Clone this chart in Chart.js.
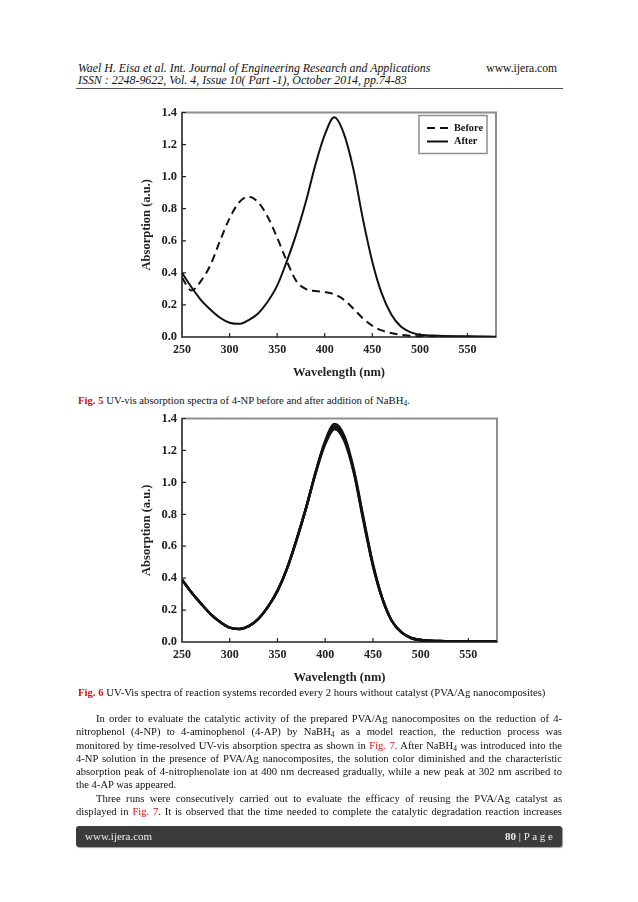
<!DOCTYPE html>
<html lang="en">
<head>
  <meta charset="UTF-8">
  <title>Fig. 5 / Fig. 6 - UV-vis spectra</title>
  <script src="https://cdn.jsdelivr.net/npm/chart.js"></script>
  <style>
    body { margin: 0; background: #fff; width: 638px; height: 902px; position: relative; font-family: "Liberation Serif", "Times New Roman", serif; color: #111; }
    .abs { position: absolute; }
    .hdr { font-style: italic; font-size: 11.9px; left: 78px; white-space: nowrap; }
    .cap { left: 78px; font-size: 10.7px; white-space: nowrap; }
    .fig { color: #d01010; font-weight: bold; }
    .ref { color: #d01010; }
    .txt { left: 76px; width: 486px; font-size: 10.6px; line-height: 13.3px; }
    .ln { text-align: justify; text-align-last: justify; white-space: nowrap; height: 13.3px; }
    .ln.ind { padding-left: 20px; }
    .ln.last { text-align-last: left; }
    sub { font-size: 70%; vertical-align: -2px; line-height: 0; }
    .foot { left: 76px; top: 826px; width: 486px; height: 21px; background: #3b3b3b; border-radius: 3px; color: #eee; font-size: 11px; box-shadow: 1px 1px 1px #999; }
  </style>
</head>
<body>
  <div class="abs hdr" style="top:61px">Wael H. Eisa et al. Int. Journal of Engineering Research and Applications</div>
  <div class="abs" style="top:62px; right:81px; font-size:11.6px">www.ijera.com</div>
  <div class="abs hdr" style="top:73px">ISSN : 2248-9622, Vol. 4, Issue 10( Part -1), October 2014, pp.74-83</div>
  <div class="abs" style="left:76px; top:88px; width:487px; height:1px; background:#555"></div>

  <canvas id="fig5" class="abs" width="375" height="285" style="left:130px; top:100px"></canvas>
  <div class="abs cap" style="top:394px"><span class="fig">Fig. 5</span> UV-vis absorption spectra of 4-NP before and after addition of NaBH<sub>4</sub>.</div>

  <canvas id="fig6" class="abs" width="376" height="284" style="left:130px; top:406px"></canvas>
  <div class="abs cap" style="top:686px"><span class="fig">Fig. 6</span> UV-Vis spectra of reaction systems recorded every 2 hours without catalyst (PVA/Ag nanocomposites)</div>

  <div class="abs txt" style="top:712px">
    <div class="ln ind">In order to evaluate the catalytic activity of the prepared PVA/Ag nanocomposites on the reduction of 4-</div>
    <div class="ln">nitrophenol (4-NP) to 4-aminophenol (4-AP) by NaBH<sub>4</sub> as a model reaction, the reduction process was</div>
    <div class="ln">monitored by time-resolved UV-vis absorption spectra as shown in <span class="ref">Fig. 7</span>. After NaBH<sub>4</sub> was introduced into the</div>
    <div class="ln">4-NP solution in the presence of PVA/Ag nanocomposites, the solution color diminished and the characteristic</div>
    <div class="ln">absorption peak of 4-nitrophenolate ion at 400 nm decreased gradually, while a new peak at 302 nm ascribed to</div>
    <div class="ln last">the 4-AP was appeared.</div>
    <div class="ln ind">Three runs were consecutively carried out to evaluate the efficacy of reusing the PVA/Ag catalyst as</div>
    <div class="ln">displayed in <span class="ref">Fig. 7</span>. It is observed that the time needed to complete the catalytic degradation reaction increases</div>
  </div>

  <div class="abs foot">
    <span class="abs" style="left:9px; top:4px">www.ijera.com</span>
    <span class="abs" style="right:9px; top:4px"><b>80</b> | P a g e</span>
  </div>

  <script>
    // wavelengths (nm) shared by all curves
    const wavelengths = [250, 260, 270, 280, 290, 300, 310, 320, 330, 340, 350, 360, 370, 380, 390, 400, 410, 420, 430, 440, 450, 460, 470, 480, 490, 500, 520, 550, 580];

    // Fig. 5
    const beforeAbs = [0.37, 0.29, 0.35, 0.45, 0.60, 0.74, 0.84, 0.875, 0.84, 0.75, 0.62, 0.475, 0.35, 0.30, 0.287, 0.28, 0.266, 0.233, 0.178, 0.117, 0.07, 0.041, 0.025, 0.014, 0.008, 0.004, 0.002, 0.001, 0];
    const afterAbs = [0.40, 0.31, 0.23, 0.17, 0.12, 0.089, 0.082, 0.106, 0.147, 0.22, 0.32, 0.47, 0.64, 0.84, 1.07, 1.26, 1.37, 1.27, 1.05, 0.74, 0.47, 0.27, 0.14, 0.065, 0.03, 0.014, 0.008, 0.004, 0.002];

    // Fig. 6 (overlapping recordings, every 2 h)
    const run1 = [0.39, 0.31, 0.24, 0.175, 0.125, 0.09, 0.082, 0.10, 0.145, 0.22, 0.32, 0.46, 0.64, 0.84, 1.06, 1.24, 1.335, 1.26, 1.06, 0.76, 0.48, 0.27, 0.13, 0.06, 0.025, 0.012, 0.006, 0.004, 0.004];
    const run2 = [0.39, 0.31, 0.24, 0.175, 0.125, 0.09, 0.082, 0.10, 0.145, 0.22, 0.32, 0.46, 0.64, 0.84, 1.06, 1.25, 1.35, 1.275, 1.07, 0.77, 0.48, 0.27, 0.13, 0.06, 0.025, 0.012, 0.006, 0.004, 0.004];
    const run3 = [0.39, 0.31, 0.24, 0.175, 0.125, 0.09, 0.082, 0.10, 0.145, 0.22, 0.32, 0.46, 0.64, 0.84, 1.065, 1.26, 1.365, 1.29, 1.08, 0.78, 0.49, 0.27, 0.13, 0.06, 0.025, 0.012, 0.006, 0.004, 0.004];

    // tick labels
    const xTicks = [250, 300, 350, 400, 450, 500, 550];
    const yTicks = [0, 0.2, 0.4, 0.6, 0.8, 1.0, 1.2, 1.4];

    const serif = '"Liberation Serif", "Times New Roman", serif';
    const pts = arr => arr.map((v, i) => ({ x: wavelengths[i], y: v }));

    // frame + inward tick marks
    const frameTicks = {
      id: 'frameTicks',
      beforeDatasetsDraw(chart) {
        const { ctx, chartArea: a, scales: { x, y } } = chart;
        ctx.save();
        ctx.strokeStyle = '#8e8e8e';
        ctx.lineWidth = 2;
        ctx.strokeRect(a.left, a.top, a.right - a.left, a.bottom - a.top);
        ctx.strokeStyle = '#222';
        ctx.lineWidth = 1.2;
        ctx.beginPath();
        ctx.moveTo(a.left, a.top);
        ctx.lineTo(a.left, a.bottom);
        ctx.lineTo(a.right, a.bottom);
        x.ticks.forEach(t => {
          const px = x.getPixelForValue(t.value);
          ctx.moveTo(px, a.bottom);
          ctx.lineTo(px, a.bottom - 4);
        });
        y.ticks.forEach(t => {
          const py = y.getPixelForValue(t.value);
          ctx.moveTo(a.left, py);
          ctx.lineTo(a.left + 4, py);
        });
        ctx.stroke();
        ctx.restore();
      }
    };

    // boxed legend inside the top right corner
    const boxLegend = {
      id: 'boxLegend',
      afterDraw(chart) {
        if (!chart.options.plugins.boxLegend.show) return;
        const { ctx, chartArea: a } = chart;
        const w = 68, h = 38;
        const left = a.right - 9 - w, top = a.top + 3;
        ctx.save();
        ctx.fillStyle = '#fff';
        ctx.fillRect(left, top, w, h);
        ctx.strokeStyle = '#8e8e8e';
        ctx.lineWidth = 1.5;
        ctx.strokeRect(left, top, w, h);
        chart.data.datasets.forEach((ds, i) => {
          const yy = top + 12.5 + i * 13.5;
          ctx.strokeStyle = ds.borderColor;
          ctx.lineWidth = 2;
          ctx.setLineDash(ds.borderDash || []);
          ctx.beginPath();
          ctx.moveTo(left + 8, yy);
          ctx.lineTo(left + 29, yy);
          ctx.stroke();
          ctx.setLineDash([]);
          ctx.fillStyle = '#111';
          ctx.font = 'bold 10.3px ' + serif;
          ctx.textBaseline = 'middle';
          ctx.fillText(ds.label, left + 35, yy);
        });
        ctx.restore();
      }
    };

    function makeOptions(showLegend, xTitlePad) {
      return {
        responsive: false,
        animation: false,
        layout: { padding: { top: 9, right: 9 } },
        elements: { point: { radius: 0 }, line: { cubicInterpolationMode: 'monotone' } },
        plugins: { legend: { display: false }, tooltip: { enabled: false }, boxLegend: { show: showLegend } },
        scales: {
          x: {
            type: 'linear', min: 250, max: 580,
            afterBuildTicks: s => { s.ticks = xTicks.map(v => ({ value: v })); },
            afterFit: s => { s.height = 48; },
            grid: { display: false, drawTicks: false },
            border: { display: false },
            ticks: { padding: 6, color: '#222', font: { family: serif, size: 12, weight: 'bold' } },
            title: { display: true, text: 'Wavelength (nm)', color: '#222', padding: { bottom: xTitlePad }, font: { family: serif, size: 12.5, weight: 'bold' } }
          },
          y: {
            min: 0, max: 1.4,
            afterBuildTicks: s => { s.ticks = yTicks.map(v => ({ value: v })); },
            afterFit: s => { s.width = 52; },
            grid: { display: false, drawTicks: false },
            border: { display: false },
            ticks: { padding: 5, color: '#222', callback: v => v.toFixed(1), font: { family: serif, size: 12.5, weight: 'bold' } },
            title: { display: true, text: 'Absorption (a.u.)', color: '#222', padding: { top: 9 }, font: { family: serif, size: 12.5, weight: 'bold' } }
          }
        }
      };
    }

    new Chart(document.getElementById('fig5'), {
      type: 'line',
      data: {
        datasets: [
          { label: 'Before', data: pts(beforeAbs), borderColor: '#111', borderWidth: 2, borderDash: [8, 5] },
          { label: 'After', data: pts(afterAbs), borderColor: '#111', borderWidth: 2 }
        ]
      },
      options: makeOptions(true, 5),
      plugins: [frameTicks, boxLegend]
    });

    new Chart(document.getElementById('fig6'), {
      type: 'line',
      data: {
        datasets: [run1, run2, run3].map((r, i) => ({
          label: 'Run ' + (i + 1), data: pts(r), borderColor: '#111', borderWidth: 2.5
        }))
      },
      options: makeOptions(false, 5),
      plugins: [frameTicks, boxLegend]
    });
  </script>
</body>
</html>
